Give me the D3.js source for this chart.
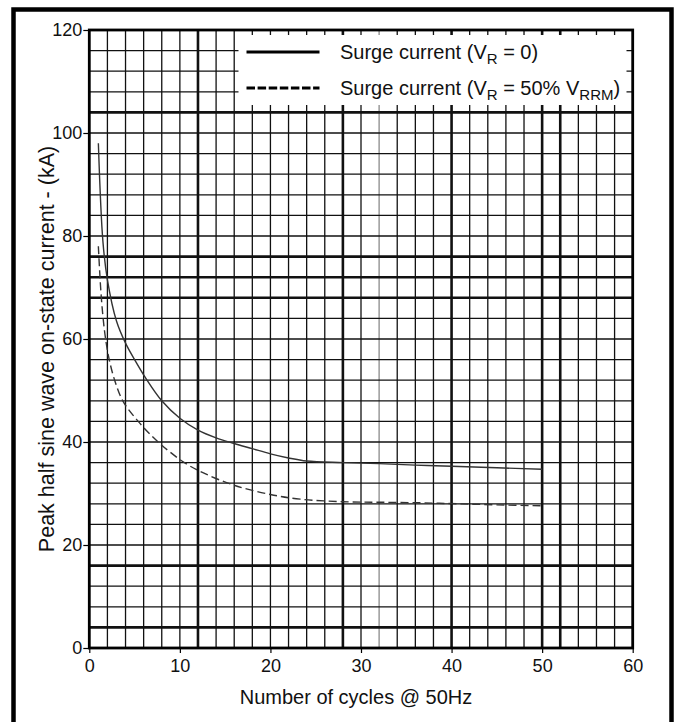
<!DOCTYPE html>
<html>
<head>
<meta charset="utf-8">
<script src="https://cdn.jsdelivr.net/npm/d3@7"></script>
<style>
  body { margin: 0; background: #fff; }
  text { font-family: "Liberation Sans", Arial, Helvetica, sans-serif; fill: #111; }
</style>
</head>
<body>
<svg width="676" height="722"></svg>
<script>
// surge current, V_R = 0
var cycles0 = [1, 1.5, 2, 3, 4, 5, 6.3, 8, 10, 12, 14, 16, 18, 20, 22, 24, 28, 32, 36, 40, 45, 50];
var surge0  = [98, 79, 71.5, 63.5, 59.2, 56, 52.2, 48, 44.6, 42.3, 40.8, 39.7, 38.7, 37.7, 36.9, 36.3, 36.0, 35.8, 35.5, 35.3, 35.0, 34.7];

// surge current, V_R = 50% V_RRM
var cycles50 = [1, 1.25, 1.5, 1.8, 2.2, 2.8, 3.7, 5.4, 7.6, 10.5, 12.6, 16, 20, 23.3, 28, 32, 36.5, 40.6, 45, 50];
var surge50  = [78, 70, 64.5, 60, 56, 52, 48, 44, 40, 36, 34, 31.6, 29.8, 28.9, 28.4, 28.3, 28.2, 28.0, 27.8, 27.6];

var xTicks = [0, 10, 20, 30, 40, 50, 60];
var yTicks = [0, 20, 40, 60, 80, 100, 120];

// heavy and light rulings of the printed grid paper
var heavyX = [12, 28, 40, 50, 52];
var heavyY = [4, 16, 68, 72, 76, 104];
var paleX = [32];

var legendLabels = [["Surge current (V", "R", " = 0)"], ["Surge current (V", "R", " = 50% V", "RRM", ")"]];

var svg = d3.select("svg");

var x = d3.scaleLinear().domain([0, 60]).range([89.3, 632.7]);
var y = d3.scaleLinear().domain([0, 120]).range([648, 30]);

// outer frame
svg.append("rect")
    .attr("x", 13.5).attr("y", 9.5)
    .attr("width", 658).attr("height", 800)
    .attr("fill", "none").attr("stroke", "#000").attr("stroke-width", 4.5);

var grid = svg.append("g");

grid.selectAll(".vx")
    .data(d3.range(2, 60, 2))
  .enter().append("line")
    .attr("x1", d => x(d)).attr("x2", d => x(d))
    .attr("y1", y(0)).attr("y2", y(120))
    .attr("stroke", d => paleX.includes(d) ? "#8a8a8a" : "#111")
    .attr("stroke-width", d => heavyX.includes(d) ? 2.6 : 1.3);

grid.selectAll(".hy")
    .data(d3.range(4, 120, 4))
  .enter().append("line")
    .attr("x1", x(0)).attr("x2", x(60))
    .attr("y1", d => y(d)).attr("y2", d => y(d))
    .attr("stroke", "#111")
    .attr("stroke-width", d => heavyY.includes(d) ? 2.6 : 1.3);

// legend panel blanks out the grid
svg.append("rect")
    .attr("x", 238.5).attr("y", 35)
    .attr("width", 388).attr("height", 70)
    .attr("fill", "#fff");

// plot border
svg.append("rect")
    .attr("x", x(0)).attr("y", y(120))
    .attr("width", x(60) - x(0)).attr("height", y(0) - y(120))
    .attr("fill", "none").attr("stroke", "#000").attr("stroke-width", 2.8);

// axes
var xAxis = svg.append("g")
    .attr("transform", "translate(0," + y(0) + ")")
    .call(d3.axisBottom(x).tickValues(xTicks).tickSize(5).tickPadding(6));
var yAxis = svg.append("g")
    .attr("transform", "translate(" + x(0) + ",0)")
    .call(d3.axisLeft(y).tickValues(yTicks).tickSize(6).tickPadding(1));
[xAxis, yAxis].forEach(function(a) {
  a.select(".domain").remove();
  a.selectAll("line").attr("stroke", "#000").attr("stroke-width", 1.2);
  a.selectAll("text").style("font-size", "18px").attr("fill", "#111");
});

svg.append("text")
    .attr("x", 356).attr("y", 704)
    .attr("text-anchor", "middle")
    .style("font-size", "20px")
    .text("Number of cycles @ 50Hz");

svg.append("text")
    .attr("transform", "translate(54,349) rotate(-90)")
    .attr("text-anchor", "middle")
    .style("font-size", "21.5px")
    .text("Peak half sine wave on-state current - (kA)");

// curves
var line = d3.line()
    .x(d => x(d[0]))
    .y(d => y(d[1]))
    .curve(d3.curveCatmullRom.alpha(0.5));

svg.append("path")
    .datum(d3.zip(cycles0, surge0))
    .attr("d", line)
    .attr("fill", "none").attr("stroke", "#333").attr("stroke-width", 1.4);

svg.append("path")
    .datum(d3.zip(cycles50, surge50))
    .attr("d", line)
    .attr("fill", "none").attr("stroke", "#333").attr("stroke-width", 1.4)
    .attr("stroke-dasharray", "8,4");

// legend
var legendY = [52, 88];
svg.selectAll(".leg-line")
    .data(legendY)
  .enter().append("line")
    .attr("x1", 246.5).attr("x2", 319.5)
    .attr("y1", d => d).attr("y2", d => d)
    .attr("stroke", "#000").attr("stroke-width", 3.2)
    .attr("stroke-dasharray", (d, i) => i ? "8.5,2.6" : null);

legendLabels.forEach(function(parts, i) {
  var t = svg.append("text")
      .attr("x", 340).attr("y", legendY[i] + 7)
      .style("font-size", "20px");
  parts.forEach(function(p, j) {
    var sub = j % 2 === 1;
    t.append("tspan")
        .attr("dy", j === 0 ? 0 : (sub ? 5 : -5))
        .style("font-size", sub ? "15px" : "20px")
        .text(p);
  });
});
</script>
</body>
</html>
